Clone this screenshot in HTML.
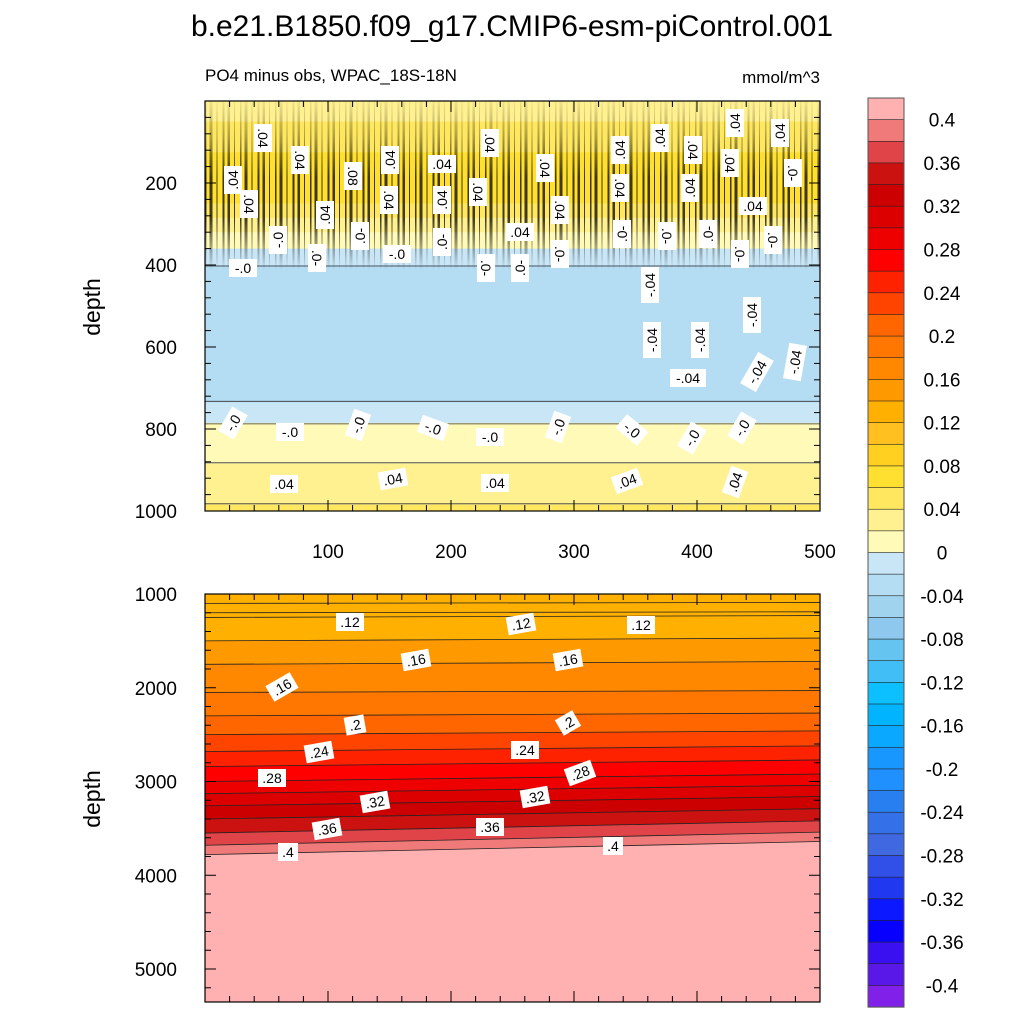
<!DOCTYPE html>
<html><head><meta charset="utf-8">
<style>
body{margin:0;background:#fff;}
svg{display:block;font-family:"Liberation Sans",sans-serif;}
</style></head>
<body>
<svg id="chart" width="1024" height="1024" viewBox="0 0 1024 1024" xmlns="http://www.w3.org/2000/svg">
<defs>
<linearGradient id="vgrad" gradientUnits="userSpaceOnUse" x1="0" y1="101" x2="0" y2="270">
<stop offset="0" stop-color="#000" stop-opacity="0.05"/>
<stop offset="0.2" stop-color="#000" stop-opacity="0.3"/>
<stop offset="0.45" stop-color="#000" stop-opacity="0.75"/>
<stop offset="0.7" stop-color="#000" stop-opacity="0.75"/>
<stop offset="0.88" stop-color="#000" stop-opacity="0.3"/>
<stop offset="1" stop-color="#000" stop-opacity="0"/>
</linearGradient>
<clipPath id="clipTop"><rect x="205" y="101" width="615" height="410"/></clipPath>
<clipPath id="clipBot"><rect x="205" y="594" width="615" height="408"/></clipPath>
</defs>
<text x="512" y="36" font-size="30" text-anchor="middle">b.e21.B1850.f09_g17.CMIP6-esm-piControl.001</text>
<text x="205" y="81" font-size="17">PO4 minus obs, WPAC_18S-18N</text>
<text x="820" y="83" font-size="17" text-anchor="end">mmol/m^3</text>
<g id="top" clip-path="url(#clipTop)"></g>
<g id="streakg" clip-path="url(#clipTop)"></g>
<g id="bot" clip-path="url(#clipBot)"></g>
<g id="labels"></g>
<g id="axes"></g>
<g id="cbar"></g>
</svg>
<script>
const NS="http://www.w3.org/2000/svg";
const coolColors=["#8020e8","#5a18e8","#3a10f0","#0800ff","#0c18ff","#2038f0","#3050e8","#4068e0","#3470e8","#2880f0","#2090ff","#1898ff","#0aa8ff","#00b4ff","#0cbfff","#40bef5","#66c4f0","#8ec8ee","#a0d4ee","#b4dcf2","#c8e6f6"];
const warmColors=["#fffab8","#fff090","#ffe860","#ffe030","#ffd020","#ffc020","#ffb000","#ff9900","#ff8800","#ff7700","#ff6600","#ff4400","#ff2200","#ff0000","#ee0000","#dd0000","#cc0000","#cc1111","#e04448","#f07a7a","#ffb0b0"];
const cbarLabels=["0.4","0.36","0.32","0.28","0.24","0.2","0.16","0.12","0.08","0.04","0","-0.04","-0.08","-0.12","-0.16","-0.2","-0.24","-0.28","-0.32","-0.36","-0.4"];
const topDepths=[0,50,100,150,200,250,300,340,380,420,500,600,680,720,760,800,850,900,950,1000];
const topValues=[0.035,0.04,0.055,0.065,0.07,0.06,0.03,0.01,-0.01,-0.03,-0.035,-0.035,-0.03,-0.025,-0.01,0.005,0.01,0.025,0.03,0.045];
const botLevels=[0.12,0.14,0.16,0.18,0.20,0.22,0.24,0.26,0.28,0.30,0.32,0.34,0.36,0.38,0.40];
const botDepthLeft=[1250,1500,1750,2050,2300,2500,2680,2840,3000,3130,3260,3400,3550,3680,3780];
const botDepthRight=[1230,1470,1720,2030,2270,2460,2620,2770,2920,3040,3160,3290,3420,3540,3640];
const xTicks=[100,200,300,400,500];
const topYTicks=[200,400,600,800,1000];
const botYTicks=[1000,2000,3000,4000,5000];

const allColors=coolColors.concat(warmColors);
function colorOf(v){let k=Math.floor(v/0.02+1e-9)+21;k=Math.max(0,Math.min(41,k));return allColors[k];}
const xs=v=>205+v*1.23;
const yTop=d=>101+d*0.41;
const yBot=d=>594+(d-1000)*0.09375;
function el(tag,attrs,parent){const e=document.createElementNS(NS,tag);for(const k in attrs)e.setAttribute(k,attrs[k]);parent.appendChild(e);return e;}
function lerp(ds,vs,d){for(let i=0;i<ds.length-1;i++){if(d<=ds[i+1]){const t=(d-ds[i])/(ds[i+1]-ds[i]);return vs[i]+t*(vs[i+1]-vs[i]);}}return vs[vs.length-1];}
const interp=d=>lerp(topDepths,topValues,d);

const gTop=document.getElementById('top');
for(let d=0;d<1000;d+=5){
  const r=el('rect',{x:205,y:yTop(d),width:615,height:yTop(d+5)-yTop(d)+0.5,fill:colorOf(interp(d+2.5))},gTop);
  
  
}
for(let lv=-0.04;lv<=0.08;lv+=0.02){
  for(let d=300;d<1000;d+=5){
    const a=interp(d),b=interp(d+5);
    if((a-lv)*(b-lv)<0){
      const ln=el('line',{x1:205,x2:820,y1:yTop(d+2.5),y2:yTop(d+2.5),stroke:'#333','stroke-width':0.8},gTop);
      
      
    }
  }
}
// decorative vertical streak texture
const gS=document.getElementById('streakg');
const widths=[1.5,3,1,2,2.5,1];
for(let x=205,i=0;x<820;i++){
  const w=widths[i%widths.length];
  const r=el('rect',{x:x,y:101,width:w,height:170,fill:'url(#vgrad)'},gS);
  
  
  x+=w+3+(i%3);
}

const gBot=document.getElementById('bot');
const base=el('rect',{x:205,y:594,width:615,height:408,fill:colorOf(0.125)},gBot);


for(let i=0;i<botLevels.length;i++){
  const yl=yBot(botDepthLeft[i]),yr=yBot(botDepthRight[i]);
  const p=el('polygon',{points:`205,${yl} 820,${yr} 820,1002 205,1002`,fill:colorOf(botLevels[i]+0.001)},gBot);
  
  
}
for(let i=0;i<botLevels.length;i++){
  const yl=yBot(botDepthLeft[i]),yr=yBot(botDepthRight[i]);
  const ln=el('line',{x1:205,y1:yl,x2:820,y2:yr,stroke:'#222','stroke-width':0.8},gBot);
  
  
}
for(let i=0;i<2;i++){const dd=1100+i*100;
  const ln=el('line',{x1:205,y1:yBot(dd),x2:820,y2:yBot(dd-10),stroke:'#222','stroke-width':0.8},gBot);
  
  }

const gL=document.getElementById('labels');
function lab(x,y,t,rot){
  const g=el('g',{transform:`translate(${x},${y}) rotate(${rot||0})`},gL);
  
  
  const w=t.length*8+4;
  el('rect',{x:-w/2,y:-9,width:w,height:18,fill:'#fff'},g);
  const tx=el('text',{x:0,y:5,'font-size':14,'text-anchor':'middle'},g);tx.textContent=t;
}
[[263,138,'.04',90],[233,180,'.04',-90],[300,160,'.04',90],[249,204,'.04',90],[325,215,'.04',-90],[353,176,'.08',90],[390,160,'.04',-90],[389,200,'.04',90],[442,164,'.04',0],[442,200,'.04',-90],[490,143,'.04',90],[478,192,'.04',90],[545,168,'.04',90],[520,232,'.04',0],[560,210,'.04',90],[620,150,'.04',-90],[660,138,'.04',-90],[693,150,'.04',90],[620,188,'.04',90],[690,188,'.04',-90],[735,123,'.04',-90],[780,133,'.04',-90],[730,163,'.04',90],[753,206,'.04',0],[793,173,'.0-',90],[243,268,'-.0',0],[278,240,'-.0',-90],[317,258,'.0-',90],[360,236,'.0-',-90],[397,254,'-.0',0],[442,242,'.0-',-90],[486,268,'.0-',90],[520,268,'.0-',-90],[560,254,'.0-',90],[622,234,'.0-',-90],[667,236,'.0-',90],[708,234,'.0-',-90],[740,254,'.0-',90],[773,240,'.0-',90],[650,285,'-.04',-90],[652,340,'-.04',-90],[700,340,'-.04',-90],[752,315,'-.04',-90],[757,372,'-.04',-60],[795,362,'-.04',-80],[688,378,'-.04',0],[233,423,'-.0',-60],[290,432,'-.0',0],[358,425,'-.0',-70],[433,428,'-.0',20],[490,437,'-.0',0],[558,427,'-.0',-70],[632,430,'-.0',40],[692,438,'-.0',-60],[742,428,'-.0',-60],[284,484,'.04',0],[393,479,'.04',-10],[495,483,'.04',0],[627,481,'.04',-20],[735,482,'.04',-70],
 [350,622,'.12',0],[521,624,'.12',-10],[641,625,'.12',0],[416,660,'.16',-10],[568,660,'.16',-10],[282,687,'.16',-30],[355,725,'.2',-10],[568,723,'.2',-30],[319,752,'.24',-10],[525,750,'.24',0],[272,778,'.28',0],[580,773,'.28',-20],[375,802,'.32',-10],[535,797,'.32',-10],[327,829,'.36',-10],[490,827,'.36',0],[288,852,'.4',0],[613,846,'.4',0]
].forEach(a=>lab(a[0],a[1],a[2],a[3]));

const gA=document.getElementById('axes');
function axisFrame(y0,y1,name){
  const r=el('rect',{x:205,y:y0,width:615,height:y1-y0,fill:'none',stroke:'#000','stroke-width':1.2},gA);
  
  
}
axisFrame(101,511,'top-plot-frame');
axisFrame(594,1002,'bottom-plot-frame');
xTicks.forEach(v=>{
  const x=xs(v);
  el('line',{x1:x,x2:x,y1:511,y2:500,stroke:'#000'},gA);
  el('line',{x1:x,x2:x,y1:101,y2:112,stroke:'#000'},gA);
  el('line',{x1:x,x2:x,y1:1002,y2:991,stroke:'#000'},gA);
  el('line',{x1:x,x2:x,y1:594,y2:605,stroke:'#000'},gA);
  const t=el('text',{x:x,y:558,'font-size':19,'text-anchor':'middle'},gA);t.textContent=v;
  
  
});
for(let v=20;v<500;v+=20){const x=xs(v);
  el('line',{x1:x,x2:x,y1:511,y2:505,stroke:'#000'},gA);el('line',{x1:x,x2:x,y1:101,y2:107,stroke:'#000'},gA);
  el('line',{x1:x,x2:x,y1:1002,y2:996,stroke:'#000'},gA);el('line',{x1:x,x2:x,y1:594,y2:600,stroke:'#000'},gA);}
topYTicks.forEach(v=>{const y=yTop(v);
  el('line',{x1:205,x2:216,y1:y,y2:y,stroke:'#000'},gA);el('line',{x1:820,x2:809,y1:y,y2:y,stroke:'#000'},gA);
  const t=el('text',{x:177,y:y+7,'font-size':19,'text-anchor':'end'},gA);t.textContent=v;
  
  });
for(let v=40;v<1000;v+=40){if(v%200){const y=yTop(v);el('line',{x1:205,x2:211,y1:y,y2:y,stroke:'#000'},gA);el('line',{x1:820,x2:814,y1:y,y2:y,stroke:'#000'},gA);}}
botYTicks.forEach(v=>{const y=yBot(v);
  el('line',{x1:205,x2:216,y1:y,y2:y,stroke:'#000'},gA);el('line',{x1:820,x2:809,y1:y,y2:y,stroke:'#000'},gA);
  const t=el('text',{x:177,y:y+7,'font-size':19,'text-anchor':'end'},gA);t.textContent=v;
  
  });
for(let v=1200;v<5300;v+=200){if(v%1000){const y=yBot(v);el('line',{x1:205,x2:211,y1:y,y2:y,stroke:'#000'},gA);el('line',{x1:820,x2:814,y1:y,y2:y,stroke:'#000'},gA);}}
[[307,'top-y-axis-title'],[799,'bottom-y-axis-title']].forEach(a=>{
  const t=el('text',{x:0,y:0,'font-size':23,'text-anchor':'middle',transform:`translate(100,${a[0]}) rotate(-90)`},gA);t.textContent='depth';
  
  });

const gC=document.getElementById('cbar');


const cbTop=98,cbH=909/42;
for(let i=0;i<42;i++){
  const r=el('rect',{x:868,y:cbTop+i*cbH,width:36,height:cbH+0.3,fill:allColors[41-i],stroke:'#222','stroke-width':0.6},gC);
  
  
}
el('rect',{x:868,y:cbTop,width:36,height:909,fill:'none',stroke:'#555','stroke-width':1},gC);
cbarLabels.forEach((s,i)=>{
  const y=cbTop+cbH*(1+2*i);
  const t=el('text',{x:942,y:y+7,'font-size':19,'text-anchor':'middle'},gC);t.textContent=s;
  
  
});
</script>
</body></html>
